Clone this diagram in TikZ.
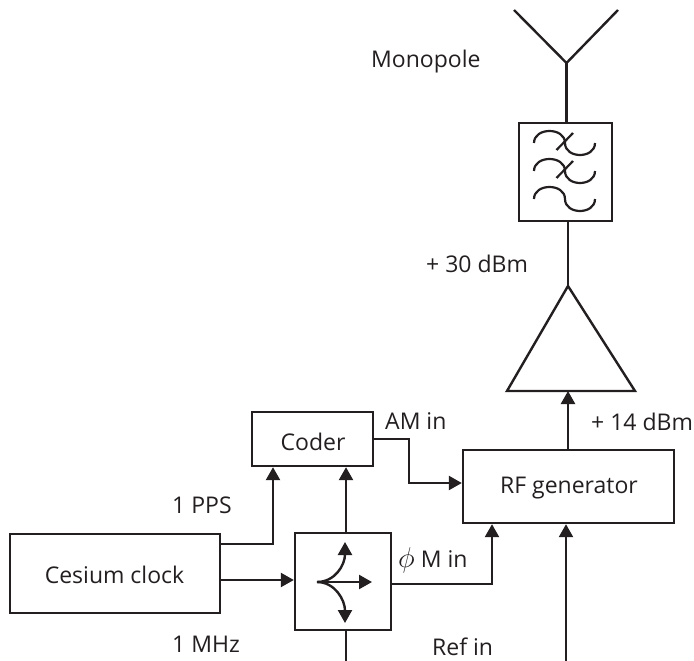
\documentclass[tikz,border=0pt]{standalone}
\usepackage{fontspec}
\usepackage{graphicx}
\setmainfont{Open Sans}
\usetikzlibrary{arrows.meta}
\definecolor{ink}{HTML}{231F20}
\tikzset{
  wire/.style={line width=2.4pt,draw=ink,line join=miter},
  arrowwire/.style={wire,-{Triangle[length=13pt,width=14pt]}},
  blockbox/.style={wire,rectangle,inner sep=0pt,text=ink},
  lbl/.style={text=ink,inner sep=0pt,font=\fontsize{23}{26}\selectfont},
  symbolline/.style={line width=2.2pt,draw=ink}
}
\begin{document}
\begin{tikzpicture}[x=1pt,y=-1pt]
\useasboundingbox (0,0) rectangle (694,661);
% blocks
\node[blockbox,minimum width=93pt,minimum height=98pt] (filter) at (565.5,172) {};
\node[blockbox,minimum width=211pt,minimum height=73pt] (rf) at (568.5,486.5) {};
\node[blockbox,minimum width=121pt,minimum height=54pt] (coder) at (312.5,439) {};
\node[blockbox,minimum width=210pt,minimum height=79pt] (clock) at (115,573.5) {};
\node[blockbox,minimum width=96pt,minimum height=97pt] (split) at (343,581.5) {};
% block texts
\node[lbl,anchor=base] (trf) at (569,493) {RF generator};
\node[lbl,anchor=base] (tcoder) at (313,450) {Coder};
\node[lbl,anchor=base] (tclock) at (114.5,583) {Cesium clock};
% amplifier
\coordinate (ampL) at (507,391);
\coordinate (ampR) at (635,391);
\coordinate (ampT) at (568,286);
\draw[wire] (ampL) -- (ampT) -- (ampR) -- cycle;
% antenna
\coordinate (antL) at (514,10);
\coordinate (antR) at (618,10);
\coordinate (antC) at (566.5,63);
\draw[wire] (antL) -- (antC) -- (antR);
\draw[wire] (antC) -- (antC |- filter.north);
\draw[wire] (ampT |- filter.south) -- (ampT);
% filter symbols
\foreach \d/\slash in {0/1,28/1,56/0}{
  \draw[symbolline] (534,143+\d) .. controls (534,127+\d) and (565,127+\d) .. (565,143+\d)
     .. controls (565,159+\d) and (595,159+\d) .. (595,143+\d);
  \ifnum\slash=1
    \draw[symbolline] (556.5,150+\d) -- (573,133+\d);
  \fi
}
% connectors
\coordinate (refend) at (566,661);
\coordinate (phiend) at (346,661);
\draw[arrowwire] (rf.north -| ampT) -- (ampT |- ampL);
\draw[arrowwire] (clock.east |- 0,544) -| (273,0 |- coder.south);
\draw[arrowwire] (clock.east |- 0,580) -- (split.west |- 0,580);
\draw[arrowwire] (split.north -| phiend) -- (phiend |- coder.south);
\draw[wire] (split.south -| phiend) -- (phiend);
\draw[arrowwire] (split.east |- 0,584) -| (492,0 |- rf.south);
\draw[arrowwire] (refend) -- (refend |- rf.south);
\draw[arrowwire] (coder.east |- 0,439) -| (409,460) |- (rf.west |- 0,483);
% splitter symbol
\coordinate (o) at (317,582);
\draw[arrowwire] (o) -- (372,582);
\draw[arrowwire] (o) .. controls (335,582) and (345,565) .. (345,542);
\draw[arrowwire] (o) .. controls (335,582) and (345,600) .. (345,623);
% labels
\node[lbl,anchor=base west] (l1) at (371,67) {Monopole};
\node[lbl,anchor=base west] (l2) at (426,272) {+ 30 dBm};
\node[lbl,anchor=base west] (l3) at (591,430) {+ 14 dBm};
\node[lbl,anchor=base west] (l4) at (385,429) {AM in};
\node[lbl,anchor=base west] (l5) at (172,513) {1 PPS};
\node[lbl,anchor=base west] (l6) at (172,652) {1 MHz};
\node[lbl,anchor=base west] (l7) at (398,567) {\scalebox{1.15}{$\phi$}\hspace{6pt}M in};
\node[lbl,anchor=base west] (l8) at (432,655) {Ref in};
\end{tikzpicture}
\end{document}
